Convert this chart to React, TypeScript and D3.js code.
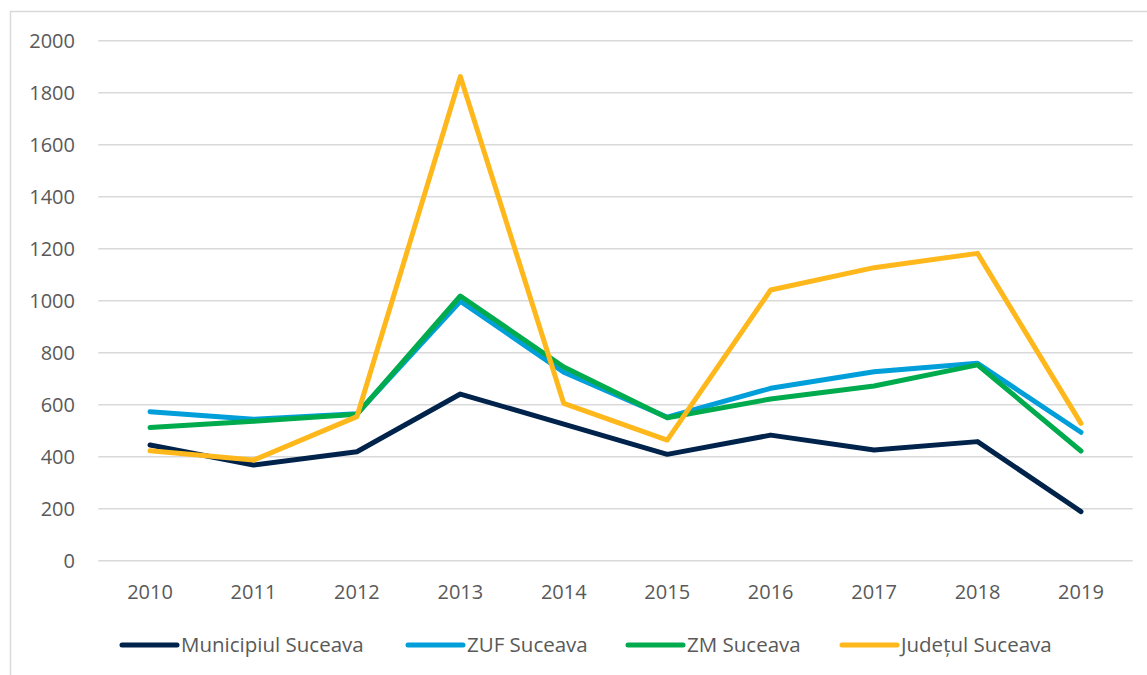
import React, { useRef, useEffect } from 'react';
import * as d3 from 'd3';

const years: string[] = ['2010', '2011', '2012', '2013', '2014', '2015', '2016', '2017', '2018', '2019'];
const yTicks: number[] = [0, 200, 400, 600, 800, 1000, 1200, 1400, 1600, 1800, 2000];

const municipiul: number[] = [445, 368, 419, 641, 525, 409, 483, 426, 458, 189];
const zuf: number[] = [573, 544, 565, 998, 725, 552, 663, 727, 759, 494];
const zm: number[] = [512, 536, 563, 1018, 745, 550, 622, 672, 753, 422];
const judetul: number[] = [423, 387, 554, 1862, 605, 464, 1041, 1127, 1182, 528];

const seriesNames: string[] = ['Municipiul Suceava', 'ZUF Suceava', 'ZM Suceava', 'Județul Suceava'];
const seriesColors: string[] = ['#00234B', '#009FDA', '#00AB4E', '#FFB81C'];

const Chart: React.FC = () => {
  const svgRef = useRef<SVGSVGElement | null>(null);

  useEffect(() => {
    if (!svgRef.current) return;
    const svg = d3.select(svgRef.current);
    svg.selectAll('*').remove();

    const width = 1147;
    const height = 675;
    const margin = { top: 40.7, right: 14.3, bottom: 114.3, left: 98.3 };
    const font = '"Open Sans", "Liberation Sans", Arial, sans-serif';
    const textColor = '#595959';

    // outer chart border (only left/top visible in the crop)
    svg.append('rect')
      .attr('x', 10.5)
      .attr('y', 11.5)
      .attr('width', width)
      .attr('height', height)
      .attr('fill', 'none')
      .attr('stroke', '#d9d9d9')
      .attr('stroke-width', 1.5);

    const x = d3.scaleBand()
      .domain(years)
      .range([margin.left, width - margin.right]);

    const y = d3.scaleLinear()
      .domain([0, 2000])
      .range([height - margin.bottom, margin.top]);

    // gridlines
    svg.append('g')
      .selectAll('line')
      .data(yTicks)
      .join('line')
      .attr('x1', margin.left)
      .attr('x2', width - margin.right)
      .attr('y1', d => y(d))
      .attr('y2', d => y(d))
      .attr('stroke', '#d9d9d9')
      .attr('stroke-width', 1.5);

    // y labels
    svg.append('g')
      .selectAll('text')
      .data(yTicks)
      .join('text')
      .attr('x', 75)
      .attr('y', d => y(d))
      .attr('dy', '0.36em')
      .attr('text-anchor', 'end')
      .attr('font-family', font)
      .attr('font-size', 20)
      .attr('fill', textColor)
      .text(d => d);

    // x labels
    svg.append('g')
      .selectAll('text')
      .data(years)
      .join('text')
      .attr('x', d => x(d)! + x.bandwidth() / 2)
      .attr('y', 599)
      .attr('text-anchor', 'middle')
      .attr('font-family', font)
      .attr('font-size', 20)
      .attr('fill', textColor)
      .text(d => d);

    const allSeries = [municipiul, zuf, zm, judetul];

    const line = d3.line<number>()
      .x((d, i) => x(years[i])! + x.bandwidth() / 2)
      .y(d => y(d));

    allSeries.forEach((s, k) => {
      svg.append('path')
        .datum(s)
        .attr('fill', 'none')
        .attr('stroke', seriesColors[k])
        .attr('stroke-width', 5)
        .attr('stroke-linejoin', 'round')
        .attr('stroke-linecap', 'round')
        .attr('d', line);
    });

    // legend
    const legendX = [122, 408, 628, 842];
    const legendY = 645;
    const legend = svg.append('g');
    seriesNames.forEach((name, k) => {
      legend.append('line')
        .attr('x1', legendX[k])
        .attr('x2', legendX[k] + 55)
        .attr('y1', legendY)
        .attr('y2', legendY)
        .attr('stroke', seriesColors[k])
        .attr('stroke-width', 5)
        .attr('stroke-linecap', 'round');
      legend.append('text')
        .attr('x', legendX[k] + 59)
        .attr('y', legendY)
        .attr('dy', '0.36em')
        .attr('font-family', font)
        .attr('font-size', 20.5)
        .attr('fill', textColor)
        .text(name);
    });
  }, []);

  return (
    <svg
      ref={svgRef}
      width={1147}
      height={675}
      style={{ position: 'absolute', left: 0, top: 0, background: '#fff' }}
    />
  );
};

export default function App() {
  return <Chart />;
}
